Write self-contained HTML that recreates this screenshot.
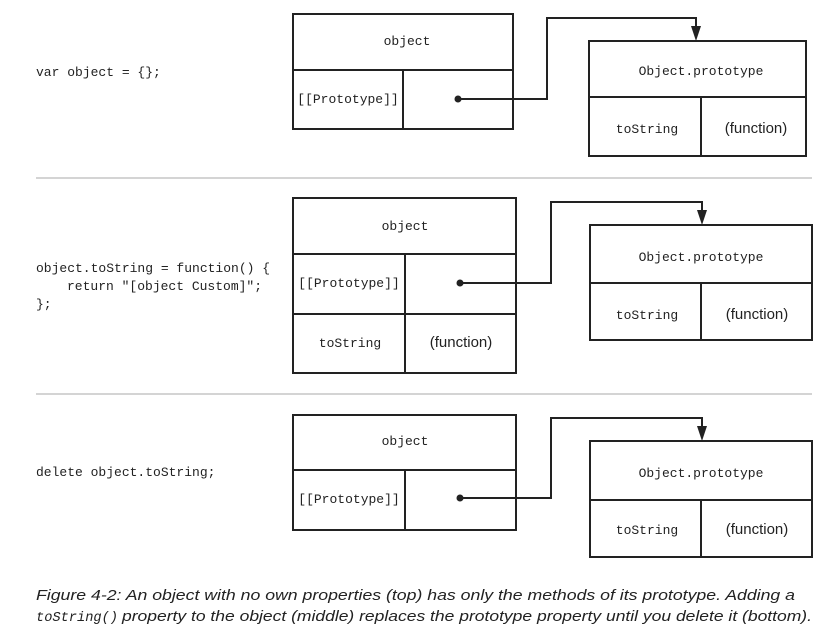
<!DOCTYPE html>
<html><head><style>
body{margin:0;background:#fff;width:827px;height:639px;overflow:hidden}
svg{display:block}
.m{font-family:"Liberation Mono",monospace;font-size:13px;fill:#222}
.s{font-family:"Liberation Sans",sans-serif;font-size:15px;fill:#222}
.c{font-family:"Liberation Sans",sans-serif;font-size:15px;font-style:italic;fill:#222}
.cm{font-family:"Liberation Mono",monospace;font-size:14px;font-style:italic;fill:#222}
rect,line,polyline{stroke:#222;stroke-width:2;fill:none}
</style></head><body>
<svg width="827" height="639" viewBox="0 0 827 639">
<!-- Panel 1 -->
<text class="m" x="36" y="76">var object = {};</text>
<rect x="293" y="14" width="220" height="115"/>
<line x1="293" y1="70" x2="513" y2="70"/>
<line x1="403" y1="70" x2="403" y2="129"/>
<text class="m" x="407" y="45" text-anchor="middle">object</text>
<text class="m" x="348" y="103" text-anchor="middle">[[Prototype]]</text>
<circle cx="458" cy="99" r="3.5" fill="#222"/>
<polyline points="458,99 547,99 547,18 696,18 696,30"/>
<polygon points="691,26 701,26 696,41" fill="#222"/>
<rect x="589" y="41" width="217" height="115"/>
<line x1="589" y1="97" x2="806" y2="97"/>
<line x1="701" y1="97" x2="701" y2="156"/>
<text class="m" x="701" y="75" text-anchor="middle">Object.prototype</text>
<text class="m" x="647" y="133" text-anchor="middle">toString</text>
<text class="s" x="756" y="133" text-anchor="middle">(function)</text>

<line x1="36" y1="178" x2="812" y2="178" style="stroke:#aaa;stroke-width:1"/>

<!-- Panel 2 -->
<text class="m" x="36" y="272">object.toString = function() {</text>
<text class="m" x="67" y="290">return "[object Custom]";</text>
<text class="m" x="36" y="308">};</text>
<rect x="293" y="198" width="223" height="175"/>
<line x1="293" y1="254" x2="516" y2="254"/>
<line x1="293" y1="314" x2="516" y2="314"/>
<line x1="405" y1="254" x2="405" y2="373"/>
<text class="m" x="405" y="230" text-anchor="middle">object</text>
<text class="m" x="349" y="287" text-anchor="middle">[[Prototype]]</text>
<text class="m" x="350" y="347" text-anchor="middle">toString</text>
<text class="s" x="461" y="347" text-anchor="middle">(function)</text>
<circle cx="460" cy="283" r="3.5" fill="#222"/>
<polyline points="460,283 551,283 551,202 702,202 702,214"/>
<polygon points="697,210 707,210 702,225" fill="#222"/>
<rect x="590" y="225" width="222" height="115"/>
<line x1="590" y1="283" x2="812" y2="283"/>
<line x1="701" y1="283" x2="701" y2="340"/>
<text class="m" x="701" y="261" text-anchor="middle">Object.prototype</text>
<text class="m" x="647" y="319" text-anchor="middle">toString</text>
<text class="s" x="757" y="319" text-anchor="middle">(function)</text>

<line x1="36" y1="394" x2="812" y2="394" style="stroke:#aaa;stroke-width:1"/>

<!-- Panel 3 -->
<text class="m" x="36" y="476">delete object.toString;</text>
<rect x="293" y="415" width="223" height="115"/>
<line x1="293" y1="470" x2="516" y2="470"/>
<line x1="405" y1="470" x2="405" y2="530"/>
<text class="m" x="405" y="445" text-anchor="middle">object</text>
<text class="m" x="349" y="503" text-anchor="middle">[[Prototype]]</text>
<circle cx="460" cy="498" r="3.5" fill="#222"/>
<polyline points="460,498 551,498 551,418 702,418 702,430"/>
<polygon points="697,426 707,426 702,441" fill="#222"/>
<rect x="590" y="441" width="222" height="116"/>
<line x1="590" y1="500" x2="812" y2="500"/>
<line x1="701" y1="500" x2="701" y2="557"/>
<text class="m" x="701" y="477" text-anchor="middle">Object.prototype</text>
<text class="m" x="647" y="534" text-anchor="middle">toString</text>
<text class="s" x="757" y="534" text-anchor="middle">(function)</text>

<text class="c" x="36" y="600" textLength="759" lengthAdjust="spacingAndGlyphs">Figure 4-2: An object with no own properties (top) has only the methods of its prototype. Adding a</text>
<text class="cm" x="36" y="621" textLength="82" lengthAdjust="spacingAndGlyphs">toString()</text>
<text class="c" x="122" y="621" textLength="690" lengthAdjust="spacingAndGlyphs">property to the object (middle) replaces the prototype property until you delete it (bottom).</text>
</svg>
</body></html>
